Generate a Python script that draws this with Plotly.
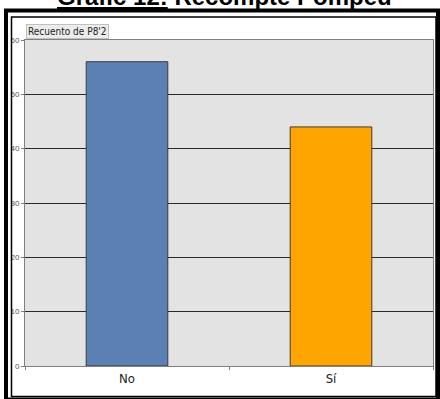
import plotly.graph_objects as go

categories = ["No", "Sí"]
values = [56, 44]
bar_colors = ["#5b80b4", "#ffa500"]
y_ticks = [0, 10, 20, 30, 40, 50, 60]
title_text = "<b><u>Gràfic 12:</u> Recompte Pompeu</b>"
series_label = "Recuento de P8'2"

W, H = 440, 399
L, R, T, B = 25, 7, 40, 33
PW, PH = W - L - R, H - T - B

def px(x):
    return (x - L) / PW

def py(y):
    return (H - B - y) / PH

fig = go.Figure()
fig.add_trace(go.Bar(
    x=categories, y=values,
    marker=dict(color=bar_colors, line=dict(color="#3a3a3a", width=1)),
    width=0.4,
    hoverinfo="skip",
))

fig.update_layout(
    width=W, height=H,
    margin=dict(l=L, r=R, t=T, b=B),
    paper_bgcolor="white",
    plot_bgcolor="#e3e3e3",
    showlegend=False,
    bargap=0.6,
    xaxis=dict(
        tickson="boundaries", ticks="outside", ticklen=3, tickcolor="#808080",
        showline=True, linecolor="#808080", linewidth=1, mirror=True,
        showgrid=False,
        tickfont=dict(family="Liberation Sans Narrow, DejaVu Sans Condensed, Arial, sans-serif", size=13, color="#222"),
    ),
    yaxis=dict(
        range=[0, 60], tickvals=y_ticks, ticks="outside", ticklen=3, tickcolor="#808080",
        showline=True, linecolor="#808080", linewidth=1, mirror=True,
        showgrid=True, gridcolor="#2a2a2a", gridwidth=1,
        zeroline=False,
        tickfont=dict(family="Liberation Sans Narrow, Arial, sans-serif", size=8, color="#555"),
    ),
    font=dict(family="Arial, Liberation Sans, sans-serif"),
)

# title
fig.add_annotation(
    text=title_text, xref="paper", yref="paper",
    x=px(224), y=py(12), xanchor="center", yanchor="bottom",
    showarrow=False,
    font=dict(family="Liberation Sans, Arial, sans-serif", size=24, color="black"),
)
# series label box
fig.add_annotation(
    text=series_label, xref="paper", yref="paper",
    x=px(26), y=py(39), xanchor="left", yanchor="bottom",
    showarrow=False, bgcolor="#ececec", bordercolor="#c0c0c0", borderwidth=1, borderpad=1,
    font=dict(family="Liberation Sans Narrow, DejaVu Sans Condensed, Arial, sans-serif", size=10, color="#222"),
)

# frame: thick outer and thin inner
fig.add_shape(type="rect", xref="paper", yref="paper",
              x0=px(6), x1=px(438), y0=py(399.5), y1=py(10.5),
              line=dict(color="black", width=4), layer="above")
fig.add_shape(type="rect", xref="paper", yref="paper",
              x0=px(11.5), x1=px(436), y0=py(396.5), y1=py(17),
              line=dict(color="black", width=1.5), layer="above")

fig.write_html("out.html", config={"displayModeBar": False},
               post_script="document.body.style.margin='0';")
